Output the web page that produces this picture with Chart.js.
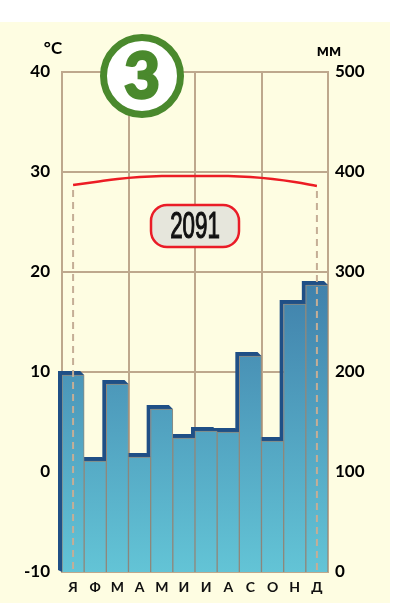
<!DOCTYPE html>
<html>
<head>
<meta charset="utf-8">
<script src="https://cdn.jsdelivr.net/npm/chart.js@4.4.1/dist/chart.umd.min.js"></script>
<style>
  html, body { margin: 0; padding: 0; background: #fff; }
  #wrap { width: 415px; height: 603px; position: relative; }
</style>
</head>
<body>
<div id="wrap"><canvas id="climateChart" width="415" height="603"></canvas></div>
<script>
// месяцы, осадки (мм) и температура (°C)
const months = ['Я', 'Ф', 'М', 'А', 'М', 'И', 'И', 'А', 'С', 'О', 'Н', 'Д'];
const precipitation = [197, 111, 188, 115, 163, 134, 141, 140, 216, 131, 268, 287];
const temperature = [28.7, 29.0, 29.3, 29.5, 29.6, 29.6, 29.6, 29.6, 29.5, 29.3, 29.0, 28.6];
const tempTicks = [-10, 0, 10, 20, 30, 40];
const precipTicks = [0, 100, 200, 300, 400, 500];
const stationNumber = '3';

const GRID = '#bea88d';
const LIP = '#1f4f86';

function barGradient(context) {
    const chart = context.chart;
    const area = chart.chartArea;
    if (!area) return '#4a94b8';
    const g = chart.ctx.createLinearGradient(0, area.top, 0, area.bottom);
    g.addColorStop(0, '#2f6597');
    g.addColorStop(0.45, '#4284ad');
    g.addColorStop(1, '#63c4d6');
    return g;
}

// фон, объёмные грани столбиков, пунктир, подписи
const decorPlugin = {
    id: 'decor',
    beforeDraw(chart) {
        const ctx = chart.ctx;
        ctx.save();
        ctx.fillStyle = '#fefde2';
        ctx.fillRect(0, 22, 390, 581);
        ctx.restore();
    },
    beforeDatasetsDraw(chart) {
        const ctx = chart.ctx;
        const meta = chart.getDatasetMeta(1);
        const d = 4;
        ctx.save();
        ctx.fillStyle = LIP;
        meta.data.forEach(bar => {
            const { x, y, base, width } = bar.getProps(['x', 'y', 'base', 'width'], true);
            const L = x - width / 2, R = x + width / 2;
            ctx.beginPath();
            ctx.moveTo(L, base);
            ctx.lineTo(L - d, base - 2);
            ctx.lineTo(L - d, y - d);
            ctx.lineTo(R - d, y - d);
            ctx.lineTo(R, y);
            ctx.lineTo(L, y);
            ctx.closePath();
            ctx.fill();
        });
        ctx.restore();
    },
    afterDatasetsDraw(chart) {
        const ctx = chart.ctx;
        const xs = chart.scales.x, yT = chart.scales.yT;
        const bottom = chart.chartArea.bottom;
        ctx.save();
        ctx.strokeStyle = '#c5ae96';
        ctx.lineWidth = 2;
        ctx.setLineDash([7, 5]);
        [0, months.length - 1].forEach(i => {
            const x = xs.getPixelForValue(i);
            ctx.beginPath();
            ctx.moveTo(x, yT.getPixelForValue(temperature[i]) + 5);
            ctx.lineTo(x, bottom);
            ctx.stroke();
        });
        ctx.restore();
    },
    afterDraw(chart) {
        const ctx = chart.ctx;
        const area = chart.chartArea;
        ctx.save();

        // единицы
        ctx.fillStyle = '#000';
        ctx.font = 'bold 17px Lato';
        ctx.textAlign = 'center';
        ctx.textBaseline = 'middle';
        ctx.fillText('°C', 53, 49);
        ctx.fillText('мм', 329, 51);

        // годовая сумма осадков
        const total = precipitation.reduce((a, b) => a + b, 0);
        const cx = (area.left + area.right) / 2;
        const cy = chart.scales.yT.getPixelForValue(24.6);
        const w = 88, h = 42, r = 16;
        ctx.beginPath();
        ctx.roundRect(cx - w / 2, cy - h / 2, w, h, r);
        ctx.fillStyle = '#e6e6dc';
        ctx.fill();
        ctx.lineWidth = 2.5;
        ctx.strokeStyle = '#ea1c27';
        ctx.stroke();
        ctx.save();
        ctx.translate(cx, cy + 2);
        ctx.scale(0.62, 1);
        ctx.fillStyle = '#111';
        ctx.font = '36px "Liberation Sans", Arial, sans-serif';
        ctx.fillText(String(total), 0, 0);
        ctx.lineWidth = 1.2;
        ctx.strokeStyle = '#111';
        ctx.strokeText(String(total), 0, 0);
        ctx.restore();

        // номер станции
        ctx.beginPath();
        ctx.arc(142, 76, 38.5, 0, Math.PI * 2);
        ctx.fillStyle = '#ffffff';
        ctx.fill();
        ctx.lineWidth = 7;
        ctx.strokeStyle = '#4a892d';
        ctx.stroke();
        ctx.fillStyle = '#4a892d';
        ctx.font = '900 62px Lato';
        ctx.fillText(stationNumber, 142, 78);
        ctx.lineWidth = 2.5;
        ctx.strokeText(stationNumber, 142, 78);

        ctx.restore();
    }
};

const tickFont = { family: 'Lato', weight: 'bold', size: 17 };

const ctx = document.getElementById('climateChart').getContext('2d');
new Chart(ctx, {
    type: 'bar',
    data: {
        labels: months,
        datasets: [
            {
                type: 'line',
                label: 'Температура',
                data: temperature,
                yAxisID: 'yT',
                borderColor: '#ec1c24',
                borderWidth: 2.5,
                tension: 0.4,
                pointRadius: 0,
                fill: false,
                order: 0
            },
            {
                label: 'Осадки',
                data: precipitation,
                yAxisID: 'yP',
                backgroundColor: barGradient,
                borderColor: '#8e887c',
                borderWidth: 1,
                barPercentage: 1,
                categoryPercentage: 1,
                order: 1
            }
        ]
    },
    options: {
        responsive: false,
        animation: false,
        layout: { padding: { top: 72, left: 0, right: 0, bottom: 0 } },
        plugins: {
            legend: { display: false },
            tooltip: { enabled: false }
        },
        scales: {
            x: {
                offset: true,
                z: 1,
                grid: {
                    offset: true,
                    drawTicks: false,
                    lineWidth: 2,
                    color: c => (c.index === undefined || c.index % 3 === 0) ? GRID : 'rgba(0,0,0,0)'
                },
                border: { color: GRID, width: 2 },
                ticks: { color: '#111', font: { family: 'Lato', weight: 'bold', size: 14 }, padding: 7 },
                afterFit: s => { s.height = 31; }
            },
            yT: {
                position: 'left',
                min: tempTicks[0],
                max: tempTicks[tempTicks.length - 1],
                z: 1,
                afterBuildTicks: s => { s.ticks = tempTicks.map(v => ({ value: v })); },
                grid: { color: GRID, lineWidth: 2, drawTicks: false },
                border: { color: GRID, width: 2 },
                ticks: { color: '#000', font: tickFont, padding: 12 },
                afterFit: s => { s.width = 62; }
            },
            yP: {
                position: 'right',
                min: precipTicks[0],
                max: precipTicks[precipTicks.length - 1],
                z: 1,
                afterBuildTicks: s => { s.ticks = precipTicks.map(v => ({ value: v })); },
                grid: { display: false, drawTicks: false },
                border: { color: GRID, width: 2 },
                ticks: { color: '#000', font: tickFont, padding: 7 },
                afterFit: s => { s.width = 87; }
            }
        }
    },
    plugins: [decorPlugin]
});
</script>
</body>
</html>
